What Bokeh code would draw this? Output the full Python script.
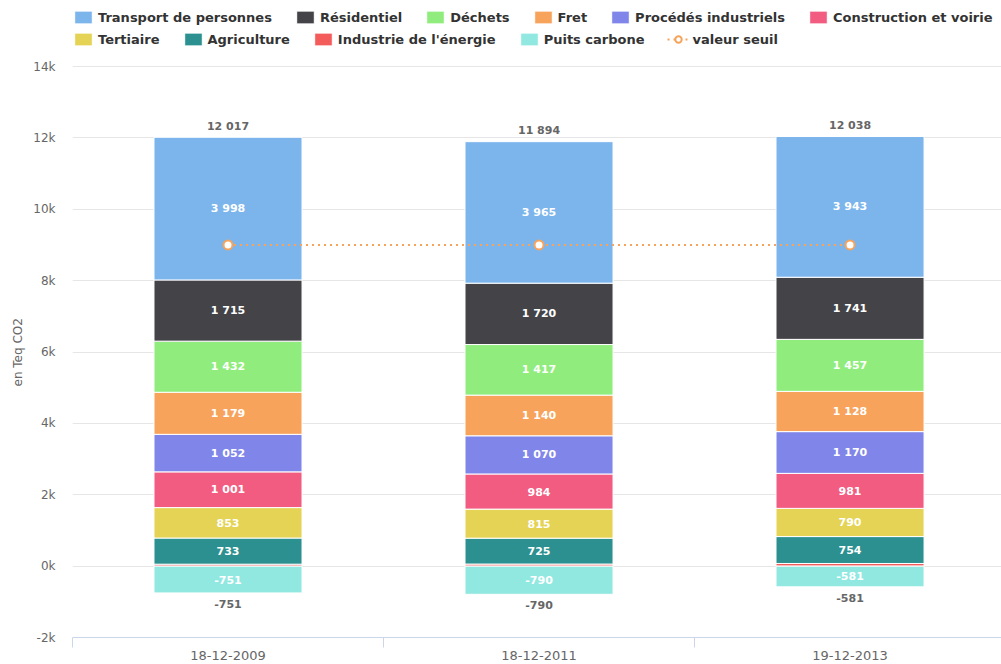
import numpy as np
from bokeh.plotting import figure
from bokeh.models import ColumnDataSource, Legend, LegendItem, Range1d, FixedTicker, Title
from bokeh.embed import file_html
from bokeh.resources import INLINE
from bokeh.core.properties import value

categories = ["18-12-2009", "18-12-2011", "19-12-2013"]

transport = [3998, 3965, 3943]
residentiel = [1715, 1720, 1741]
dechets = [1432, 1417, 1457]
fret = [1179, 1140, 1128]
procedes = [1052, 1070, 1170]
construction = [1001, 984, 981]
tertiaire = [853, 815, 790]
agriculture = [733, 725, 754]
industrie_energie = [54, 58, 74]
puits_carbone = [-751, -790, -581]
valeur_seuil = [9000, 9000, 9000]

y_ticks = [-2000, 0, 2000, 4000, 6000, 8000, 10000, 12000, 14000]

# legend order (top of stack first)
series = [
    ("Transport de personnes", transport, "#7cb5ec"),
    ("Résidentiel", residentiel, "#434348"),
    ("Déchets", dechets, "#90ed7d"),
    ("Fret", fret, "#f7a35c"),
    ("Procédés industriels", procedes, "#8085e9"),
    ("Construction et voirie", construction, "#f15c80"),
    ("Tertiaire", tertiaire, "#e4d354"),
    ("Agriculture", agriculture, "#2b908f"),
    ("Industrie de l'énergie", industrie_energie, "#f45b5b"),
]
puits_name, puits_color = "Puits carbone", "#91e8e1"
seuil_color = "#f7a35c"

def fmt(v):
    return f"{v:,}".replace(",", " ")

x = np.arange(len(categories)) + 0.5

# plotting area: axis from -2k (y=637px) to 14k (y=66px); frame extended to the top
# so that the legend rows (drawn inside the frame) are not clipped
H, AXIS_Y, TOP_Y = 664, 637, 66
y_lo, y_hi = min(y_ticks), max(y_ticks)
per_px = (y_hi - y_lo) / (AXIS_Y - TOP_Y)
y_end = y_lo + AXIS_Y * per_px

p = figure(width=1001, height=H, output_backend="svg", toolbar_location=None,
           x_range=Range1d(0, 2.987), y_range=Range1d(y_lo, y_end),
           min_border_left=72, min_border_right=0, min_border_top=0,
           min_border_bottom=H - AXIS_Y)
p.outline_line_color = None
p.background_fill_color = "white"

renderers = {}
bottom = np.zeros(len(categories))
lab_x, lab_y, lab_t = [], [], []
for name, vals, col in reversed(series):
    vals = np.array(vals, dtype=float)
    top = bottom + vals
    src = ColumnDataSource(dict(x=x, bottom=bottom.copy(), top=top))
    r = p.vbar(x="x", bottom="bottom", top="top", width=0.476, source=src,
               fill_color=col, line_color="white", line_width=1)
    renderers[name] = [r]
    if name != "Industrie de l'énergie":
        for xi, b, t, v in zip(x, bottom, top, vals):
            lab_x.append(xi); lab_y.append((b + t) / 2); lab_t.append(fmt(int(v)))
    bottom = top
pos_total = bottom

neg = np.array(puits_carbone, dtype=float)
src = ColumnDataSource(dict(x=x, bottom=np.zeros(len(x)), top=neg))
r = p.vbar(x="x", bottom="bottom", top="top", width=0.476, source=src,
           fill_color=puits_color, line_color="white", line_width=1)
renderers[puits_name] = [r]
for xi, v in zip(x, neg):
    lab_x.append(xi); lab_y.append(v / 2); lab_t.append(fmt(int(v)))

seuil_src = ColumnDataSource(dict(x=x, y=valeur_seuil))
l1 = p.line("x", "y", source=seuil_src, line_color=seuil_color, line_width=2, line_dash="2 4")
l2 = p.scatter("x", "y", source=seuil_src, size=9, marker="circle",
               fill_color="white", line_color=seuil_color, line_width=2)
renderers["valeur seuil"] = [l1, l2]

lab_src = ColumnDataSource(dict(x=lab_x, y=lab_y, t=lab_t))
p.text("x", "y", text="t", source=lab_src, text_color="white", text_align="center",
       text_baseline="middle", text_font=value("DejaVu Sans"), text_font_style="bold",
       text_font_size="11px")

tot_src = ColumnDataSource(dict(x=x, y=pos_total, t=[fmt(int(v)) for v in pos_total]))
p.text("x", "y", text="t", source=tot_src, text_color="#666666", text_align="center",
       text_baseline="middle", y_offset=-11, text_font=value("DejaVu Sans"),
       text_font_style="bold", text_font_size="11px")
neg_src = ColumnDataSource(dict(x=x, y=neg, t=[fmt(int(v)) for v in neg]))
p.text("x", "y", text="t", source=neg_src, text_color="#666666", text_align="center",
       text_baseline="middle", y_offset=11, text_font=value("DejaVu Sans"),
       text_font_style="bold", text_font_size="11px")

# axes
p.yaxis.ticker = FixedTicker(ticks=y_ticks)
p.yaxis.major_label_overrides = {t: f"{t // 1000}k" for t in y_ticks}
p.yaxis.axis_line_color = None
p.yaxis.major_tick_line_color = None
p.yaxis.minor_tick_line_color = None
p.yaxis.major_tick_out = 0
p.yaxis.major_label_standoff = 17
p.yaxis.major_label_text_font = "DejaVu Sans"
p.yaxis.major_label_text_font_size = "12px"
p.yaxis.major_label_text_color = "#666666"

ytitle = Title(text="en Teq CO2", align="left", offset=251, standoff=12,
               text_font="DejaVu Sans", text_font_size="12px",
               text_font_style="normal", text_color="#666666")
p.add_layout(ytitle, "left")

p.xaxis.ticker = FixedTicker(ticks=list(x), minor_ticks=list(range(len(categories) + 1)))
p.xaxis.major_label_overrides = {float(xi): c for xi, c in zip(x, categories)}
p.xaxis.axis_line_color = "#ccd6eb"
p.xaxis.major_tick_line_color = None
p.xaxis.major_tick_out = 0
p.xaxis.major_tick_in = 0
p.xaxis.minor_tick_line_color = "#ccd6eb"
p.xaxis.minor_tick_out = 10
p.xaxis.minor_tick_in = 0
p.xaxis.major_label_standoff = 3
p.xaxis.major_label_text_font = "DejaVu Sans"
p.xaxis.major_label_text_font_size = "13px"
p.xaxis.major_label_text_color = "#666666"

p.xgrid.grid_line_color = None
p.ygrid.grid_line_color = "#e6e6e6"

legend_names = [s[0] for s in series] + [puits_name, "valeur seuil"]
row1 = legend_names[:6]
row2 = legend_names[6:]

def make_legend(names, loc):
    lg = Legend(items=[LegendItem(label=n, renderers=renderers[n]) for n in names],
                orientation="horizontal", location=loc,
                label_text_font="DejaVu Sans", label_text_font_style="bold",
                label_text_font_size="13px", label_text_color="#333333",
                glyph_width=22, glyph_height=16, label_standoff=4, spacing=22,
                padding=0, margin=0, border_line_color=None,
                background_fill_alpha=0, label_height=16)
    return lg

p.add_layout(make_legend(row1, (0, 612)), "center")
p.add_layout(make_legend(row2, (0, 590)), "center")

open("out.html", "w").write(file_html(p, INLINE))
